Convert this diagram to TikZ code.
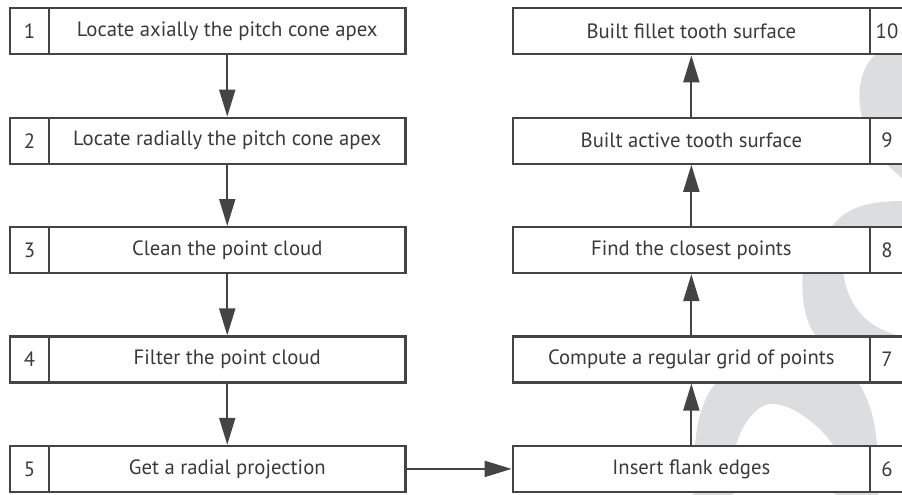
\documentclass[tikz,border=0pt]{standalone}
\usepackage{fontspec}
\setmainfont{PT Sans}
\usetikzlibrary{arrows.meta}
\definecolor{ln}{HTML}{444444}
\definecolor{tx}{HTML}{3A3A3A}
\definecolor{wmark}{HTML}{DCDDDF}
\begin{document}
\begin{tikzpicture}[x=1pt,y=-1pt,
  box/.style={draw=ln, line width=2.2pt, fill=white, minimum height=46pt, inner sep=0pt, text=tx, font=\fontsize{20.7}{24}\selectfont},
  mainL/.style={box, minimum width=356.5pt},
  numL/.style={box, minimum width=39pt},
  mainR/.style={box, minimum width=357.3pt},
  numR/.style={box, minimum width=34pt},
  arr/.style={draw=ln, line width=2pt, -{Triangle[length=27pt,width=16pt]}}]
\useasboundingbox (0,0) rectangle (902,495);
% watermark shapes
\fill[wmark] (878,53) .. controls (860,65) and (855,95) .. (863,121) -- (905,121) -- (905,53) -- cycle;
\fill[wmark] (885,163) .. controls (893,170) .. (905,181) -- (905,163) -- cycle;
\fill[wmark] (830,229) .. controls (845,208) and (865,201) .. (905,201) -- (905,229) -- cycle;
\fill[wmark] (803,271) .. controls (800,305) and (808,330) .. (820,340) -- (905,340) -- (905,337) .. controls (870,330) and (848,310) .. (843,271) -- cycle;
\fill[wmark] (693,497) -- (695,445) .. controls (698,410) and (708,388) .. (722,378) -- (855,378)
  .. controls (866,392) and (875,415) .. (877,445) -- (878,497) -- (835,497) -- (833,445)
  .. controls (820,425) and (790,402) .. (770,404) .. controls (755,405) and (738,430) .. (735,450) -- (733,497) -- cycle;
% left column
\node[mainL] (m1) at (227.25,31.3) {Locate axially the pitch cone apex};
\node[numL] (n1) at (29.5,31.3) {1};
\node[mainL] (m2) at (227.25,140.7) {Locate radially the pitch cone apex};
\node[numL] (n2) at (29.5,140.7) {2};
\node[mainL] (m3) at (227.25,250.1) {Clean the point cloud};
\node[numL] (n3) at (29.5,250.1) {3};
\node[mainL] (m4) at (227.25,359.5) {Filter the point cloud};
\node[numL] (n4) at (29.5,359.5) {4};
\node[mainL] (m5) at (227.25,468.9) {Get a radial projection};
\node[numL] (n5) at (29.5,468.9) {5};
% right column
\node[mainR] (m10) at (691.35,31.3) {Built fillet tooth surface};
\node[numR] (n10) at (887,31.3) {10};
\node[mainR] (m9) at (691.35,140.7) {Built active tooth surface};
\node[numR] (n9) at (887,140.7) {9};
\node[mainR] (m8) at (691.35,250.1) {Find the closest points};
\node[numR] (n8) at (887,250.1) {8};
\node[mainR] (m7) at (691.35,359.5) {Compute a regular grid of points};
\node[numR] (n7) at (887,359.5) {7};
\node[mainR] (m6) at (691.35,468.9) {Insert flank edges};
\node[numR] (n6) at (887,468.9) {6};
% connectors
\draw[arr] (m1) -- (m2);
\draw[arr] (m2) -- (m3);
\draw[arr] (m3) -- (m4);
\draw[arr] (m4) -- (m5);
\draw[arr] (m5) -- (m6);
\draw[arr] (m6) -- (m7);
\draw[arr] (m7) -- (m8);
\draw[arr] (m8) -- (m9);
\draw[arr] (m9) -- (m10);
\end{tikzpicture}
\end{document}
